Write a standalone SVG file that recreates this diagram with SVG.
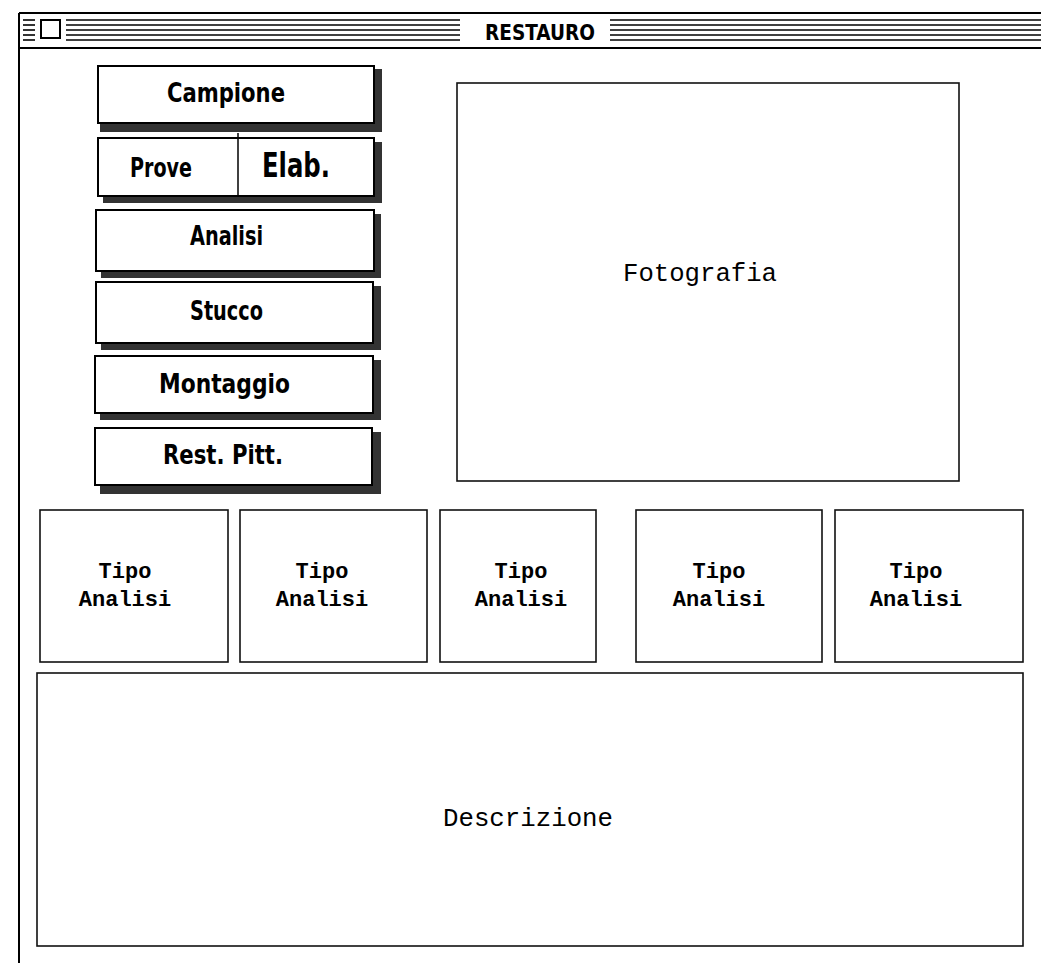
<svg xmlns="http://www.w3.org/2000/svg" width="1041" height="963" viewBox="0 0 1041 963">
<style>
.btn{fill:#fff;stroke:#000;stroke-width:2}
.sh{fill:#333}
.box{fill:#fff;stroke:#111;stroke-width:1.6}
.bt{font-family:"DejaVu Sans Condensed","Liberation Sans Narrow","DejaVu Sans",sans-serif;font-weight:bold;fill:#000}
.mono{font-family:"Liberation Mono","Courier New",monospace;fill:#000}
.stripe{stroke:#000;stroke-width:1.6}
</style>
<rect width="1041" height="963" fill="#fff"/>
<g id="window">
<line x1="19" y1="13" x2="19" y2="963" stroke="#000" stroke-width="2"/>
<line x1="19" y1="13" x2="1041" y2="13" stroke="#000" stroke-width="2"/>
<line x1="19" y1="48" x2="1041" y2="48" stroke="#000" stroke-width="2"/>
<g class="stripe">
<line x1="23" y1="20" x2="35" y2="20"/><line x1="23" y1="25" x2="35" y2="25"/><line x1="23" y1="30" x2="35" y2="30"/><line x1="23" y1="35" x2="35" y2="35"/><line x1="23" y1="40" x2="35" y2="40"/>
<line x1="66" y1="20" x2="460" y2="20"/><line x1="66" y1="25" x2="460" y2="25"/><line x1="66" y1="30" x2="460" y2="30"/><line x1="66" y1="35" x2="460" y2="35"/><line x1="66" y1="40" x2="460" y2="40"/>
<line x1="610" y1="20" x2="1041" y2="20"/><line x1="610" y1="25" x2="1041" y2="25"/><line x1="610" y1="30" x2="1041" y2="30"/><line x1="610" y1="35" x2="1041" y2="35"/><line x1="610" y1="40" x2="1041" y2="40"/>
</g>
<rect x="41" y="20" width="19" height="18" fill="#fff" stroke="#000" stroke-width="2"/>
<text class="bt" x="540" y="40" font-size="21" text-anchor="middle" textLength="110" lengthAdjust="spacingAndGlyphs">RESTAURO</text>
</g>
<g id="campione">
<rect class="sh" x="100" y="123" width="282" height="9"/><rect class="sh" x="374" y="69" width="8" height="63"/>
<rect class="btn" x="98" y="66" width="276" height="57"/>
<text class="bt" x="167" y="102" font-size="26" textLength="118" lengthAdjust="spacingAndGlyphs">Campione</text>
</g>
<g id="prove-elab">
<rect class="sh" x="103" y="196" width="279" height="7"/><rect class="sh" x="374" y="142" width="8" height="61"/>
<rect class="btn" x="98" y="138" width="276" height="58"/>
<line x1="238" y1="133" x2="238" y2="196" stroke="#000" stroke-width="1.5"/>
<text class="bt" x="130" y="177" font-size="26" textLength="62" lengthAdjust="spacingAndGlyphs">Prove</text>
<text class="bt" x="262" y="177" font-size="34" font-weight="normal" textLength="68" lengthAdjust="spacingAndGlyphs">Elab.</text>
</g>
<g id="analisi">
<rect class="sh" x="101" y="271" width="280" height="7"/><rect class="sh" x="374" y="214" width="7" height="64"/>
<rect class="btn" x="96" y="210" width="278" height="61"/>
<text class="bt" x="190" y="245" font-size="26" textLength="73" lengthAdjust="spacingAndGlyphs">Analisi</text>
</g>
<g id="stucco">
<rect class="sh" x="101" y="343" width="280" height="7"/><rect class="sh" x="373" y="286" width="8" height="64"/>
<rect class="btn" x="96" y="282" width="277" height="61"/>
<text class="bt" x="190" y="320" font-size="26" textLength="73" lengthAdjust="spacingAndGlyphs">Stucco</text>
</g>
<g id="montaggio">
<rect class="sh" x="100" y="413" width="281" height="7"/><rect class="sh" x="373" y="360" width="8" height="60"/>
<rect class="btn" x="95" y="356" width="278" height="57"/>
<text class="bt" x="159" y="393" font-size="26" font-weight="normal" textLength="131" lengthAdjust="spacingAndGlyphs">Montaggio</text>
</g>
<g id="rest-pitt">
<rect class="sh" x="100" y="485" width="281" height="9"/><rect class="sh" x="372" y="432" width="9" height="62"/>
<rect class="btn" x="95" y="428" width="277" height="57"/>
<text class="bt" x="163" y="464" font-size="26" textLength="120" lengthAdjust="spacingAndGlyphs">Rest. Pitt.</text>
</g>
<g id="fotografia">
<rect class="box" x="457" y="83" width="502" height="398"/>
<text class="mono" x="623" y="281" font-size="26" textLength="154" lengthAdjust="spacingAndGlyphs">Fotografia</text>
</g>
<g id="tipo1">
<rect class="box" x="40" y="510" width="188" height="152"/>
<text class="mono" font-weight="bold" font-size="22" text-anchor="middle"><tspan x="125" y="578">Tipo</tspan><tspan x="125" y="606">Analisi</tspan></text>
</g>
<g id="tipo2">
<rect class="box" x="240" y="510" width="187" height="152"/>
<text class="mono" font-weight="bold" font-size="22" text-anchor="middle"><tspan x="322" y="578">Tipo</tspan><tspan x="322" y="606">Analisi</tspan></text>
</g>
<g id="tipo3">
<rect class="box" x="440" y="510" width="156" height="152"/>
<text class="mono" font-weight="bold" font-size="22" text-anchor="middle"><tspan x="521" y="578">Tipo</tspan><tspan x="521" y="606">Analisi</tspan></text>
</g>
<g id="tipo4">
<rect class="box" x="636" y="510" width="186" height="152"/>
<text class="mono" font-weight="bold" font-size="22" text-anchor="middle"><tspan x="719" y="578">Tipo</tspan><tspan x="719" y="606">Analisi</tspan></text>
</g>
<g id="tipo5">
<rect class="box" x="835" y="510" width="188" height="152"/>
<text class="mono" font-weight="bold" font-size="22" text-anchor="middle"><tspan x="916" y="578">Tipo</tspan><tspan x="916" y="606">Analisi</tspan></text>
</g>
<g id="descrizione">
<rect class="box" x="37" y="673" width="986" height="273"/>
<text class="mono" x="443" y="826" font-size="26" textLength="170" lengthAdjust="spacingAndGlyphs">Descrizione</text>
</g>
<g id="connectors"></g>
</svg>
